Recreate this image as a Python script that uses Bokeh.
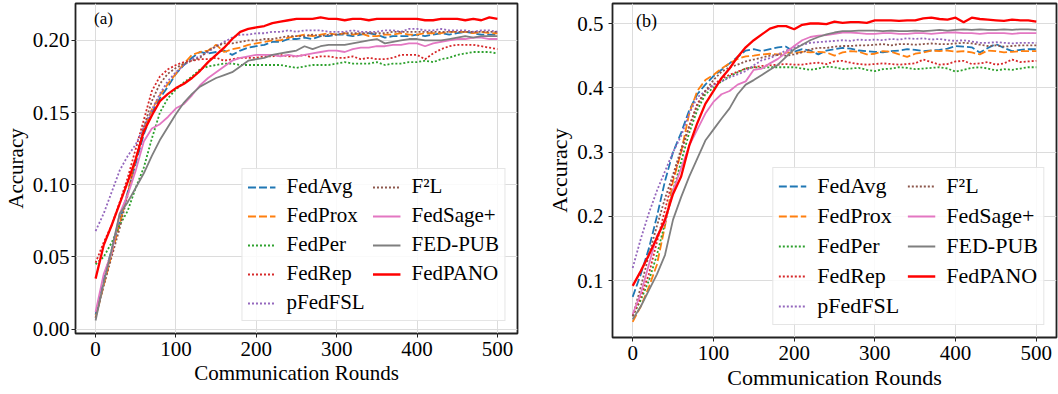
from bokeh.plotting import figure
from bokeh.layouts import row
from bokeh.models import Range1d, FixedTicker, Legend, LegendItem, Label, NumeralTickFormatter
from bokeh.embed import file_html
from bokeh.resources import INLINE

rounds = list(range(0, 501, 10))

methods = ["FedAvg", "FedProx", "FedPer", "FedRep", "pFedFSL", "F\u00b2L", "FedSage+", "FED-PUB", "FedPANO"]
colors = ["#1f77b4", "#ff7f0e", "#2ca02c", "#d62728", "#9467bd", "#8c564b", "#e377c2", "#7f7f7f", "#ff0000"]
dashes = ["dashed", "dashed", "dotted", "dotted", "dotted", "dotted", "solid", "solid", "solid"]

# ---------------- panel (a) ----------------
a_fedavg = [0.010, 0.035, 0.055, 0.075, 0.095, 0.115, 0.135, 0.150, 0.160, 0.168, 0.177, 0.183, 0.188, 0.192, 0.191, 0.192, 0.193, 0.190, 0.193, 0.195, 0.196, 0.197, 0.199, 0.199, 0.201, 0.201, 0.202, 0.201, 0.203, 0.203, 0.204, 0.204, 0.203, 0.204, 0.205, 0.204, 0.202, 0.203, 0.203, 0.203, 0.204, 0.203, 0.204, 0.205, 0.204, 0.205, 0.206, 0.205, 0.204, 0.204, 0.204]
a_fedprox = [0.008, 0.030, 0.052, 0.073, 0.094, 0.118, 0.138, 0.152, 0.162, 0.170, 0.177, 0.184, 0.190, 0.192, 0.193, 0.197, 0.192, 0.194, 0.195, 0.197, 0.198, 0.199, 0.200, 0.200, 0.202, 0.203, 0.204, 0.203, 0.204, 0.205, 0.204, 0.205, 0.204, 0.205, 0.203, 0.203, 0.204, 0.204, 0.205, 0.204, 0.204, 0.205, 0.205, 0.205, 0.206, 0.206, 0.206, 0.205, 0.206, 0.205, 0.205]
a_fedper = [0.045, 0.050, 0.060, 0.072, 0.082, 0.098, 0.112, 0.132, 0.150, 0.160, 0.166, 0.171, 0.175, 0.180, 0.182, 0.183, 0.184, 0.184, 0.183, 0.183, 0.183, 0.183, 0.183, 0.183, 0.182, 0.181, 0.182, 0.183, 0.183, 0.183, 0.184, 0.185, 0.184, 0.184, 0.184, 0.185, 0.183, 0.184, 0.184, 0.185, 0.185, 0.186, 0.185, 0.187, 0.188, 0.190, 0.191, 0.192, 0.192, 0.192, 0.191]
a_fedrep = [0.046, 0.060, 0.072, 0.088, 0.105, 0.125, 0.145, 0.165, 0.175, 0.180, 0.183, 0.185, 0.186, 0.187, 0.187, 0.188, 0.186, 0.187, 0.188, 0.188, 0.188, 0.189, 0.189, 0.190, 0.189, 0.189, 0.190, 0.188, 0.189, 0.189, 0.188, 0.188, 0.189, 0.187, 0.188, 0.187, 0.187, 0.188, 0.190, 0.190, 0.190, 0.187, 0.191, 0.194, 0.196, 0.197, 0.197, 0.197, 0.196, 0.195, 0.194]
a_pfedfsl = [0.068, 0.080, 0.095, 0.110, 0.120, 0.128, 0.140, 0.152, 0.163, 0.172, 0.178, 0.183, 0.187, 0.189, 0.192, 0.196, 0.199, 0.202, 0.204, 0.204, 0.205, 0.205, 0.206, 0.206, 0.207, 0.206, 0.207, 0.207, 0.207, 0.206, 0.206, 0.206, 0.207, 0.206, 0.206, 0.206, 0.207, 0.207, 0.206, 0.208, 0.208, 0.207, 0.207, 0.208, 0.207, 0.207, 0.207, 0.206, 0.207, 0.207, 0.206]
a_f2l = [0.008, 0.030, 0.050, 0.070, 0.093, 0.118, 0.140, 0.158, 0.170, 0.177, 0.181, 0.184, 0.186, 0.188, 0.193, 0.196, 0.198, 0.198, 0.199, 0.200, 0.200, 0.201, 0.201, 0.202, 0.203, 0.203, 0.203, 0.204, 0.203, 0.204, 0.204, 0.205, 0.205, 0.205, 0.205, 0.205, 0.205, 0.206, 0.206, 0.206, 0.206, 0.206, 0.206, 0.206, 0.206, 0.206, 0.206, 0.206, 0.206, 0.206, 0.206]
a_fedsage = [0.012, 0.038, 0.053, 0.080, 0.093, 0.110, 0.130, 0.139, 0.142, 0.147, 0.153, 0.156, 0.162, 0.169, 0.174, 0.178, 0.182, 0.186, 0.188, 0.189, 0.190, 0.190, 0.190, 0.189, 0.190, 0.189, 0.190, 0.191, 0.192, 0.193, 0.193, 0.192, 0.194, 0.195, 0.195, 0.196, 0.196, 0.197, 0.197, 0.198, 0.198, 0.196, 0.198, 0.199, 0.200, 0.201, 0.201, 0.202, 0.202, 0.201, 0.201]
a_fedpub = [0.006, 0.032, 0.055, 0.080, 0.088, 0.098, 0.108, 0.120, 0.131, 0.140, 0.149, 0.157, 0.163, 0.168, 0.171, 0.174, 0.176, 0.178, 0.182, 0.186, 0.187, 0.188, 0.190, 0.191, 0.192, 0.193, 0.196, 0.194, 0.196, 0.197, 0.197, 0.197, 0.198, 0.199, 0.200, 0.201, 0.198, 0.199, 0.200, 0.201, 0.201, 0.200, 0.200, 0.200, 0.201, 0.202, 0.203, 0.202, 0.203, 0.203, 0.203]
a_fedpano = [0.035, 0.058, 0.072, 0.087, 0.102, 0.118, 0.137, 0.148, 0.158, 0.163, 0.167, 0.170, 0.174, 0.179, 0.185, 0.190, 0.195, 0.201, 0.206, 0.208, 0.209, 0.210, 0.212, 0.213, 0.214, 0.215, 0.215, 0.215, 0.216, 0.215, 0.215, 0.214, 0.215, 0.215, 0.214, 0.215, 0.215, 0.215, 0.215, 0.215, 0.215, 0.214, 0.214, 0.215, 0.215, 0.215, 0.214, 0.215, 0.214, 0.216, 0.215]

# ---------------- panel (b) ----------------
b_fedavg = [0.075, 0.110, 0.150, 0.200, 0.255, 0.300, 0.330, 0.365, 0.390, 0.405, 0.418, 0.428, 0.438, 0.448, 0.458, 0.460, 0.457, 0.460, 0.463, 0.464, 0.456, 0.460, 0.458, 0.452, 0.458, 0.460, 0.462, 0.461, 0.458, 0.457, 0.456, 0.455, 0.457, 0.458, 0.460, 0.459, 0.457, 0.458, 0.459, 0.461, 0.465, 0.464, 0.463, 0.455, 0.462, 0.468, 0.462, 0.457, 0.459, 0.460, 0.460]
b_fedprox = [0.036, 0.060, 0.090, 0.125, 0.185, 0.255, 0.300, 0.360, 0.395, 0.412, 0.420, 0.430, 0.438, 0.445, 0.449, 0.450, 0.452, 0.453, 0.452, 0.455, 0.454, 0.456, 0.455, 0.456, 0.455, 0.450, 0.455, 0.457, 0.456, 0.452, 0.453, 0.457, 0.456, 0.452, 0.448, 0.453, 0.455, 0.458, 0.457, 0.458, 0.456, 0.457, 0.455, 0.452, 0.458, 0.457, 0.455, 0.456, 0.457, 0.457, 0.457]
b_fedper = [0.045, 0.070, 0.100, 0.140, 0.190, 0.240, 0.285, 0.330, 0.365, 0.390, 0.400, 0.410, 0.418, 0.424, 0.430, 0.432, 0.431, 0.432, 0.432, 0.432, 0.432, 0.430, 0.428, 0.430, 0.433, 0.432, 0.429, 0.430, 0.431, 0.428, 0.426, 0.429, 0.430, 0.432, 0.431, 0.429, 0.430, 0.431, 0.432, 0.430, 0.425, 0.428, 0.431, 0.432, 0.430, 0.427, 0.429, 0.428, 0.430, 0.432, 0.432]
b_fedrep = [0.045, 0.075, 0.110, 0.160, 0.210, 0.260, 0.300, 0.340, 0.375, 0.395, 0.405, 0.414, 0.420, 0.425, 0.430, 0.432, 0.434, 0.435, 0.436, 0.437, 0.436, 0.436, 0.438, 0.439, 0.437, 0.441, 0.442, 0.439, 0.437, 0.436, 0.437, 0.438, 0.437, 0.436, 0.437, 0.438, 0.444, 0.440, 0.436, 0.437, 0.441, 0.442, 0.437, 0.438, 0.440, 0.436, 0.438, 0.444, 0.440, 0.441, 0.442]
b_pfedfsl = [0.120, 0.165, 0.205, 0.240, 0.270, 0.300, 0.325, 0.360, 0.385, 0.395, 0.404, 0.410, 0.416, 0.421, 0.426, 0.435, 0.443, 0.446, 0.452, 0.458, 0.463, 0.467, 0.470, 0.471, 0.472, 0.473, 0.474, 0.473, 0.475, 0.474, 0.475, 0.474, 0.476, 0.475, 0.477, 0.476, 0.477, 0.475, 0.476, 0.474, 0.473, 0.474, 0.472, 0.470, 0.470, 0.471, 0.470, 0.469, 0.470, 0.470, 0.470]
b_f2l = [0.045, 0.090, 0.140, 0.185, 0.228, 0.265, 0.305, 0.340, 0.372, 0.395, 0.412, 0.425, 0.432, 0.436, 0.441, 0.444, 0.447, 0.450, 0.451, 0.450, 0.452, 0.455, 0.460, 0.462, 0.462, 0.464, 0.465, 0.465, 0.466, 0.466, 0.467, 0.468, 0.466, 0.468, 0.468, 0.467, 0.468, 0.469, 0.468, 0.468, 0.469, 0.470, 0.469, 0.467, 0.465, 0.466, 0.464, 0.465, 0.466, 0.466, 0.466]
b_fedsage = [0.048, 0.080, 0.125, 0.170, 0.190, 0.240, 0.275, 0.310, 0.335, 0.360, 0.378, 0.390, 0.395, 0.405, 0.410, 0.428, 0.430, 0.438, 0.445, 0.455, 0.465, 0.474, 0.479, 0.481, 0.482, 0.484, 0.486, 0.486, 0.485, 0.484, 0.484, 0.485, 0.485, 0.484, 0.484, 0.485, 0.485, 0.484, 0.485, 0.486, 0.486, 0.485, 0.485, 0.484, 0.485, 0.485, 0.485, 0.484, 0.485, 0.485, 0.485]
b_fedpub = [0.040, 0.060, 0.085, 0.110, 0.140, 0.195, 0.230, 0.262, 0.290, 0.318, 0.335, 0.352, 0.368, 0.390, 0.405, 0.412, 0.420, 0.428, 0.436, 0.448, 0.460, 0.467, 0.474, 0.479, 0.483, 0.486, 0.488, 0.488, 0.489, 0.489, 0.489, 0.488, 0.489, 0.488, 0.488, 0.489, 0.488, 0.489, 0.490, 0.489, 0.490, 0.491, 0.490, 0.491, 0.490, 0.490, 0.491, 0.490, 0.491, 0.491, 0.490]
b_fedpano = [0.092, 0.115, 0.140, 0.167, 0.195, 0.235, 0.262, 0.310, 0.345, 0.375, 0.395, 0.415, 0.430, 0.448, 0.463, 0.474, 0.483, 0.492, 0.496, 0.496, 0.491, 0.498, 0.500, 0.500, 0.499, 0.503, 0.501, 0.502, 0.502, 0.501, 0.505, 0.505, 0.505, 0.504, 0.505, 0.505, 0.508, 0.509, 0.507, 0.506, 0.509, 0.502, 0.509, 0.507, 0.506, 0.505, 0.504, 0.506, 0.505, 0.505, 0.503]

series_a = [a_fedavg, a_fedprox, a_fedper, a_fedrep, a_pfedfsl, a_f2l, a_fedsage, a_fedpub, a_fedpano]
series_b = [b_fedavg, b_fedprox, b_fedper, b_fedrep, b_pfedfsl, b_f2l, b_fedsage, b_fedpub, b_fedpano]

x_ticks = [0, 100, 200, 300, 400, 500]
a_yticks = [0.00, 0.05, 0.10, 0.15, 0.20]
b_yticks = [0.1, 0.2, 0.3, 0.4, 0.5]

FONT = "Liberation Serif"
DASH = {"dashed": "8 3", "dotted": "2 2", "solid": "solid"}


def make_panel(series, yr, yticks, yfmt, tag, tag_x, tag_y, tag_fs,
               fw, fh, bl, br, bb, fs, tick_fs, ystand, lab_w):
    p = figure(frame_width=fw, frame_height=fh, x_range=Range1d(-25, 525), y_range=Range1d(*yr),
               output_backend="svg", toolbar_location=None,
               min_border_left=bl, min_border_right=br, min_border_top=3, min_border_bottom=bb)
    p.background_fill_color = "white"
    p.border_fill_color = "white"
    p.outline_line_color = "#222222"
    p.outline_line_width = 1.8
    p.xgrid.grid_line_color = "#dcdcdc"
    p.ygrid.grid_line_color = "#dcdcdc"
    p.xgrid.grid_line_width = 1
    p.ygrid.grid_line_width = 1
    p.xaxis.ticker = FixedTicker(ticks=x_ticks)
    p.yaxis.ticker = FixedTicker(ticks=yticks)
    p.yaxis.formatter = NumeralTickFormatter(format=yfmt)
    for ax in (p.xaxis[0], p.yaxis[0]):
        ax.axis_line_color = None
        ax.major_tick_line_color = "#222222"
        ax.major_tick_out = 4
        ax.major_tick_in = 0
        ax.minor_tick_line_color = None
        ax.major_label_text_font = FONT
        ax.major_label_text_font_size = tick_fs
        ax.major_label_text_color = "black"
        ax.axis_label_text_font = FONT
        ax.axis_label_text_font_size = fs
        ax.axis_label_text_font_style = "normal"
        ax.axis_label_text_color = "black"
        ax.axis_label_standoff = 2
    p.xaxis.major_label_standoff = 4
    p.yaxis.major_label_standoff = ystand
    p.xaxis.axis_label = "Communication Rounds"
    p.yaxis.axis_label = "Accuracy"

    items = []
    for name, vals, col, ds in zip(methods, series, colors, dashes):
        lw = 2.3 if name == "FedPANO" else 1.8
        r = p.line(rounds, vals, line_color=col, line_width=lw, line_dash=DASH[ds])
        items.append(LegendItem(label=name, renderers=[r]))
    leg = Legend(items=items, location="bottom_right", ncols=2)
    leg.label_text_font = FONT
    leg.label_text_font_size = fs
    leg.label_text_color = "black"
    leg.glyph_width = 28
    leg.glyph_height = 20
    leg.label_height = 20
    leg.label_width = lab_w
    leg.label_standoff = 11
    leg.spacing = 4
    leg.padding = 5
    leg.margin = 12
    leg.border_line_color = "#cccccc"
    leg.border_line_width = 1
    leg.background_fill_alpha = 0.85
    p.add_layout(leg)

    p.add_layout(Label(x=tag_x, y=tag_y, text=tag, text_font=FONT, text_font_size=tag_fs,
                       text_baseline="top", text_align="left", text_color="black"))
    return p


pa = make_panel(series_a, (-0.003, 0.2256), a_yticks, "0.00", "(a)", -2, 0.2215, "17px",
                442, 330, 75, 12, 61, "21px", "21px", 2, 82)
pb = make_panel(series_b, (0.0118, 0.5311), b_yticks, "0.0", "(b)", 4, 0.5187, "18px",
                444, 334, 83, 2, 57, "22px", "21px", 5, 86)

layout = row(pa, pb)
open("out.html", "w").write(file_html(layout, INLINE))
